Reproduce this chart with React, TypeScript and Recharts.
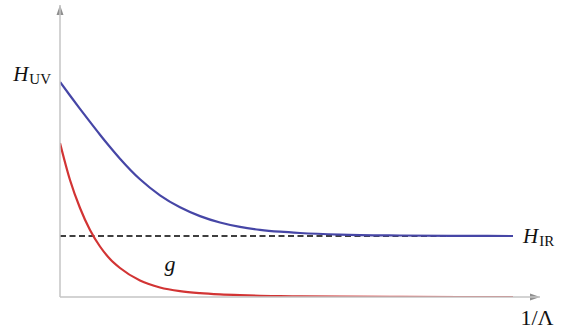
import { LineChart, Line, XAxis, YAxis, ReferenceDot, Customized } from "recharts";

// positions along 1/Λ (curves run from 0 to 453, axis arrow at 480)
const xs = [0, 10, 20, 30, 40, 50, 60, 80, 100, 120, 140, 160, 180, 200, 220, 240, 280, 340, 400, 453];
// Hubble rate (blue)
const hubble = [215, 201.5, 188.2, 175.1, 162.3, 150, 138.3, 117.7, 101.7, 89.7, 80.9, 74.5, 70.1, 67.2, 65.3, 64, 62.4, 61.5, 61.15, 61];
// coupling g (red)
const coupling = [154, 117, 89, 67, 50.5, 38, 29, 16.5, 9.5, 5.8, 3.8, 2.6, 1.8, 1.2, 0.9, 0.6, 0.3, 0.1, 0, 0];
// IR plateau (dashed)
const hIR = 61;
const hUV = 215;
const irEnd = 453;
const gLabelPos = { x: 110, y: 26 };
const xMax = 480;
const yMax = 292;

const W = 574;
const H = 334;
const M = { top: 5, right: 34, bottom: 7, left: 10 };
const Y_AXIS_W = 50;
const X_AXIS_H = 30;

const SERIF = "'Liberation Serif', 'DejaVu Serif', serif";
const AXIS_GRAY = "#c4c4c4";
const ARROW_GRAY = "#8f8f8f";

const data = xs.map((x, i) => ({
  x,
  hubble: hubble[i],
  coupling: coupling[i],
}));

const UvTick = (props: any) => {
  const { x, y } = props;
  return (
    <text x={x - 1} y={y - 1} textAnchor="end" fontFamily={SERIF} fill="#111">
      <tspan fontSize={21} fontStyle="italic">H</tspan>
      <tspan fontSize={15} dy={3} dx={1}>UV</tspan>
    </text>
  );
};

const LambdaTick = (props: any) => {
  const { x, y } = props;
  return (
    <text x={x - 3} y={y + 20} textAnchor="middle" fontFamily={SERIF} fontSize={22} fill="#111">
      1/Λ
    </text>
  );
};

const IrLabel = (props: any) => {
  const { x, y, index } = props;
  if (index !== 1) return null;
  return (
    <text x={x + 10} y={y + 7} fontFamily={SERIF} fill="#111">
      <tspan fontSize={21} fontStyle="italic">H</tspan>
      <tspan fontSize={15} dy={3} dx={1}>IR</tspan>
    </text>
  );
};

const GLabel = (props: any) => {
  const vb = props.viewBox || {};
  const cx = (vb.x ?? 0) + (vb.width ?? 0) / 2;
  const cy = (vb.y ?? 0) + (vb.height ?? 0) / 2;
  return (
    <text x={cx} y={cy} textAnchor="middle" fontFamily={SERIF} fontSize={22} fontStyle="italic" fill="#111">
      g
    </text>
  );
};

const Arrows = () => {
  const left = M.left + Y_AXIS_W;
  const top = M.top;
  const right = W - M.right;
  const bottom = H - M.bottom - X_AXIS_H;
  return (
    <g>
      <path d={`M${left},${top} L${left - 3.5},${top + 10} L${left + 3.5},${top + 10} Z`} fill={ARROW_GRAY} />
      <path d={`M${right},${bottom} L${right - 10},${bottom - 3.5} L${right - 10},${bottom + 3.5} Z`} fill={ARROW_GRAY} />
    </g>
  );
};

export default function App() {
  const irData = [
    { x: 0, ir: hIR },
    { x: irEnd, ir: hIR },
  ];
  return (
    <div style={{ position: "absolute", left: 0, top: 0, width: W, height: H, background: "#fff" }}>
      <LineChart width={W} height={H} data={data} margin={M}>
        <XAxis
          dataKey="x"
          type="number"
          domain={[0, xMax]}
          ticks={[xMax]}
          tick={<LambdaTick />}
          tickLine={false}
          height={X_AXIS_H}
          axisLine={{ stroke: AXIS_GRAY, strokeWidth: 1.5 }}
          allowDataOverflow
        />
        <YAxis
          type="number"
          domain={[0, yMax]}
          ticks={[hUV]}
          tick={<UvTick />}
          tickLine={false}
          width={Y_AXIS_W}
          axisLine={{ stroke: AXIS_GRAY, strokeWidth: 1.5 }}
          allowDataOverflow
        />
        <Line
          data={irData}
          dataKey="ir"
          type="linear"
          stroke="#000"
          strokeWidth={1.4}
          strokeDasharray="6 3.5"
          dot={false}
          label={<IrLabel />}
          isAnimationActive={false}
        />
        <Line
          dataKey="hubble"
          type="monotone"
          stroke="#4646a6"
          strokeWidth={2.2}
          dot={false}
          isAnimationActive={false}
        />
        <Line
          dataKey="coupling"
          type="monotone"
          stroke="#d23434"
          strokeWidth={2.2}
          dot={false}
          isAnimationActive={false}
        />
        <ReferenceDot
          x={gLabelPos.x}
          y={gLabelPos.y}
          r={0}
          fill="none"
          stroke="none"
          label={<GLabel />}
        />
        <Customized component={<Arrows />} />
      </LineChart>
    </div>
  );
}
